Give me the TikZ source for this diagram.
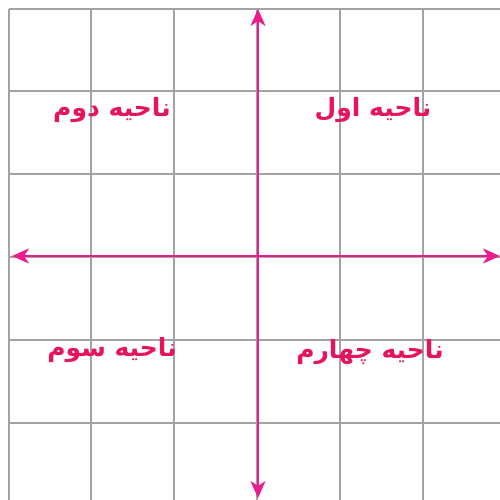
\documentclass[tikz,border=0pt]{standalone}
\usepackage{fontspec}
\usetikzlibrary{arrows.meta}
\TeXXeTstate=1
\newfontfamily\arabicfont[Script=Arabic]{DejaVu Sans}
\definecolor{gridgray}{HTML}{A3A3A3}
\definecolor{axismag}{HTML}{EC1C8E}
\definecolor{labelpink}{HTML}{E8135E}
\tikzset{
  gridline/.style={draw=gridgray, line width=2pt},
  axisline/.style={draw=axismag, line width=1.6pt, {Stealth[length=17pt,width=15pt,inset=5pt]}-{Stealth[length=17pt,width=15pt,inset=5pt]}},
  region/.style={text=labelpink, font=\arabicfont\bfseries\fontsize{25}{30}\selectfont, inner sep=0pt}
}
\begin{document}
\begin{tikzpicture}[x=1pt,y=-1pt]
\useasboundingbox (0,0) rectangle (500,499);
\fill[white] (0,0) rectangle (500,499);
\foreach \k in {0,...,6}{
  \draw[gridline] ({8.5+82.8*\k},8.5) -- ({8.5+82.8*\k},505);
  \draw[gridline] (8.5,{8.5+82.8*\k}) -- (505,{8.5+82.8*\k});
}
\coordinate (top) at (258,9);
\coordinate (bottom) at (258,498);
\coordinate (left) at (12,256);
\coordinate (right) at (500,256);
\draw[axisline] (bottom) -- (top);
\draw[axisline] (left) -- (right);
\node[region] (q1) at (373,110) {\beginR ناحیه اول\endR};
\node[region] (q2) at (112,110) {\beginR ناحیه دوم\endR};
\node[region] (q3) at (112,350) {\beginR ناحیه سوم\endR};
\node[region] (q4) at (370,352) {\beginR ناحیه چهارم\endR};
\end{tikzpicture}
\end{document}
